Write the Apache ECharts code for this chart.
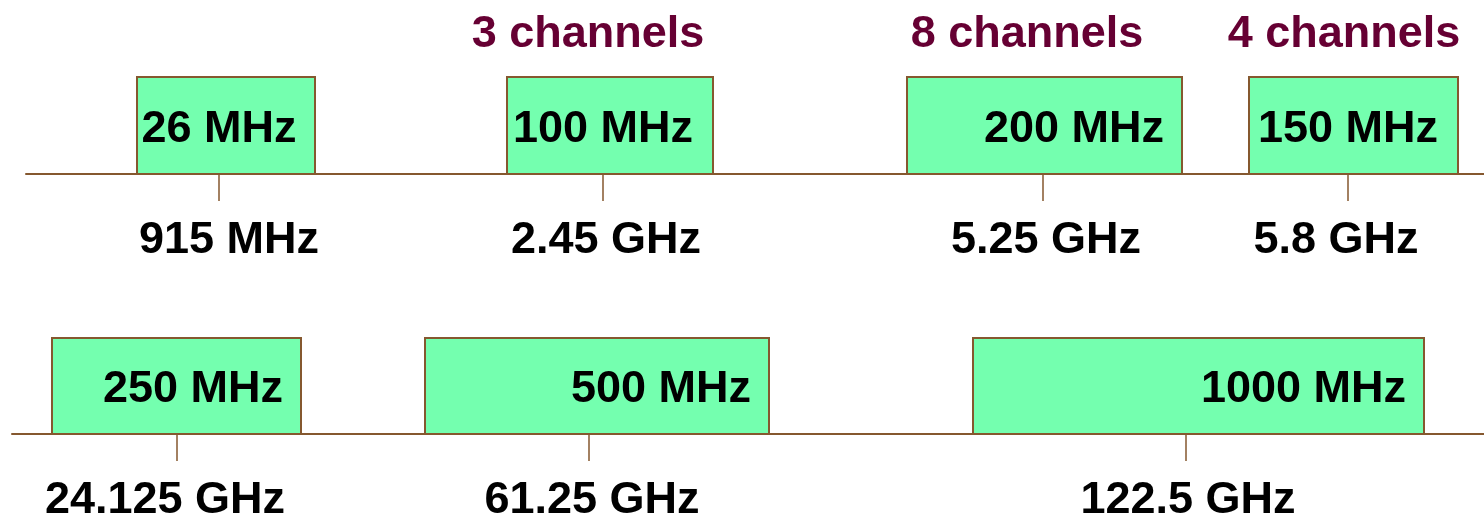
<!DOCTYPE html>
<html>
<head>
<meta charset="utf-8">
<script src="https://cdn.jsdelivr.net/npm/echarts@6/dist/echarts.min.js"></script>
<style>html,body{margin:0;padding:0;background:#fff}#chart{width:1484px;height:518px}</style>
</head>
<body>
<div id="chart"></div>
<script>
// ---- Row 1: lower ISM bands ----
const row1Centers  = ['915 MHz', '2.45 GHz', '5.25 GHz', '5.8 GHz'];
const row1Widths   = ['26 MHz', '100 MHz', '200 MHz', '150 MHz'];
const row1Channels = ['', '3 channels', '8 channels', '4 channels'];
// positions along the schematic (non-linear) diagram axis
const row1Start = [137, 507, 907, 1249];
const row1End   = [315, 713, 1182, 1458];
const row1Mark  = [219, 603, 1043, 1348];

// ---- Row 2: millimetre-wave ISM bands ----
const row2Centers  = ['24.125 GHz', '61.25 GHz', '122.5 GHz'];
const row2Widths   = ['250 MHz', '500 MHz', '1000 MHz'];
const row2Channels = ['', '', ''];
const row2Start = [52, 425, 973];
const row2End   = [301, 769, 1424];
const row2Mark  = [177, 589, 1186];

// ---- layout / style (kept apart from data) ----
const GREEN = '#74FFAF';
const BROWN = '#85582F';
const MAROON = '#660033';
const FONT = 'bold 45px "Liberation Sans", Arial, sans-serif';
const row1WidthAlign = ['mark', 'mark', 'right', 'mark'];
const row1LabelShift = [10, 3, 3, -12];
const row1ChanShift  = [0, -15, -16, -4];
const row2WidthAlign = ['right', 'right', 'right'];
const row2LabelShift = [-12, 3, 2];
const row2ChanShift  = [0, 0, 0];

function makeRender(widths, centers, channels, align, labelShift, chanShift) {
  return function (params, api) {
    const i = params.dataIndex;
    const tl = api.coord([api.value(0), 1]);
    const br = api.coord([api.value(1), 0]);
    const mk = api.coord([api.value(2), 0]);
    const h = br[1] - tl[1];
    const children = [{
      type: 'rect',
      shape: { x: tl[0], y: tl[1], width: br[0] - tl[0], height: h },
      style: { fill: GREEN, stroke: BROWN, lineWidth: 2 }
    }];
    const right = align[i] === 'right';
    children.push({
      type: 'text',
      style: {
        text: widths[i], x: right ? br[0] - 18 : mk[0], y: tl[1] + h / 2 + 4,
        align: right ? 'right' : 'center', verticalAlign: 'middle', font: FONT, fill: '#000'
      }
    });
    children.push({
      type: 'text',
      style: {
        text: centers[i], x: mk[0] + labelShift[i], y: br[1] + 67,
        align: 'center', verticalAlign: 'middle', font: FONT, fill: '#000'
      }
    });
    if (channels[i]) {
      children.push({
        type: 'text',
        style: {
          text: channels[i], x: mk[0] + chanShift[i], y: tl[1] - 42,
          align: 'center', verticalAlign: 'middle', font: FONT, fill: MAROON
        }
      });
    }
    return { type: 'group', children: children };
  };
}

function xAxisFor(gridIndex, min, marks) {
  return {
    gridIndex: gridIndex, type: 'value', min: min, max: 1484,
    axisLine: { show: true, onZero: false, lineStyle: { color: BROWN, width: 2 } },
    axisTick: { show: true, customValues: marks, length: 27, lineStyle: { color: BROWN, width: 1.5 } },
    axisLabel: { show: false },
    splitLine: { show: false }
  };
}
function yAxisFor(gridIndex) {
  return { gridIndex: gridIndex, type: 'value', min: 0, max: 1, show: false };
}

const chart = echarts.init(document.getElementById('chart'), null, { renderer: 'canvas' });
chart.setOption({
  animation: false,
  backgroundColor: '#ffffff',
  grid: [
    { left: 26, right: 0, top: 77, height: 97 },
    { left: 12, right: 0, top: 338, height: 96 }
  ],
  xAxis: [xAxisFor(0, 26, row1Mark), xAxisFor(1, 12, row2Mark)],
  yAxis: [yAxisFor(0), yAxisFor(1)],
  series: [
    {
      type: 'custom', xAxisIndex: 0, yAxisIndex: 0, clip: false,
      renderItem: makeRender(row1Widths, row1Centers, row1Channels, row1WidthAlign, row1LabelShift, row1ChanShift),
      data: row1Start.map((s, i) => [s, row1End[i], row1Mark[i]])
    },
    {
      type: 'custom', xAxisIndex: 1, yAxisIndex: 1, clip: false,
      renderItem: makeRender(row2Widths, row2Centers, row2Channels, row2WidthAlign, row2LabelShift, row2ChanShift),
      data: row2Start.map((s, i) => [s, row2End[i], row2Mark[i]])
    }
  ]
});
</script>
</body>
</html>
